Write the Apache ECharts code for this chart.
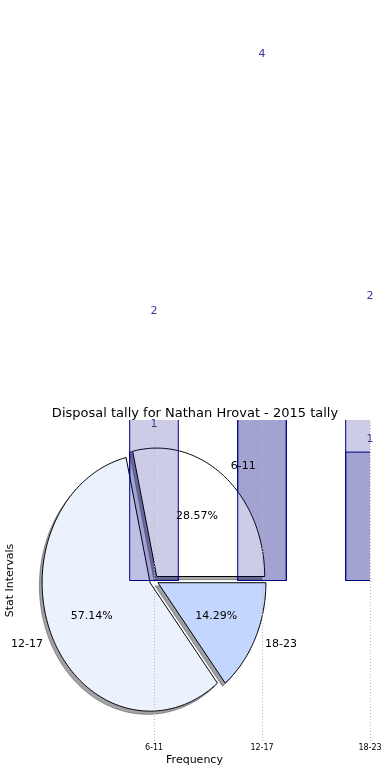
<!DOCTYPE html>
<html><head><meta charset="utf-8">
<script src="https://cdn.jsdelivr.net/npm/echarts@6/dist/echarts.min.js"></script>
<style>html,body{margin:0;padding:0;background:#fff}#c{width:390px;height:780px}</style>
</head><body><div id="c"></div>
<script>
// ---- data ----
const categories = ['6-11', '12-17', '18-23'];
const barSeriesA = [1, 5, 2];      // bar layer drawn beneath the pie
const barSeriesB = [2, 4, 1];      // bar layer drawn above the pie
const pieValues  = [2, 4, 1];
const pieLabels  = ['6-11', '12-17', '18-23'];

// ---- style ----
const FONT = '"DejaVu Sans", sans-serif';
const pieColors = ['#ffffff', '#ebf1fd', '#c3d7fe'];
const explode = [0.04, 0.04, 0.04];
const shadowOff = -0.025;
const barWidthUnits = 0.45;
const barFill = 'rgba(0,0,128,0.2)';

const total = pieValues.reduce((a, b) => a + b, 0);
function wedgeGeom(i) {
  let start = 0;
  for (let k = 0; k < i; k++) start += pieValues[k] / total * 360;
  const sweep = pieValues[i] / total * 360;
  const mid = (start + sweep / 2) * Math.PI / 180;
  return { start, sweep, mid, cx: explode[i] * Math.cos(mid), cy: explode[i] * Math.sin(mid) };
}
function wedgePoints(api, i, d) {
  const g = wedgeGeom(i);
  const pts = [api.coord([g.cx + d, g.cy + d])];
  const n = Math.max(10, Math.ceil(g.sweep));
  for (let k = 0; k <= n; k++) {
    const a = (g.start + g.sweep * k / n) * Math.PI / 180;
    pts.push(api.coord([g.cx + d + Math.cos(a), g.cy + d + Math.sin(a)]));
  }
  return pts;
}
function hexToShadow(hex) {
  const r = parseInt(hex.slice(1, 3), 16), g = parseInt(hex.slice(3, 5), 16), b = parseInt(hex.slice(5, 7), 16);
  return 'rgba(' + Math.round(r * 0.3) + ',' + Math.round(g * 0.3) + ',' + Math.round(b * 0.3) + ',0.5)';
}
function barRender(params, api) {
  const x = api.value(0), v = api.value(1);
  const p1 = api.coord([x - barWidthUnits / 2, v]);
  const p0 = api.coord([x + barWidthUnits / 2, 0]);
  return { type: 'rect',
    shape: { x: p1[0], y: p1[1], width: p0[0] - p1[0], height: p0[1] - p1[1] },
    style: { fill: barFill, stroke: '#000080', lineWidth: 1 } };
}

const pieData = pieValues.map((v, i) => [i, v]);

const chart = echarts.init(document.getElementById('c'), null, { renderer: 'canvas' });
chart.setOption({
  animation: false,
  backgroundColor: '#ffffff',
  title: {
    text: 'Disposal tally for Nathan Hrovat - 2015 tally',
    left: 'center', top: 407, padding: 0,
    textStyle: { fontFamily: FONT, fontSize: 13, fontWeight: 'normal', color: '#000' }
  },
  grid: { left: 19, right: 20, top: 420, bottom: 39, outerBoundsMode: 'none', containLabel: false },
  xAxis: {
    type: 'value', min: -1.25, max: 2, interval: 0.25,
    axisLine: { show: false }, axisTick: { show: false }, splitLine: { show: false },
    axisLabel: {
      fontFamily: FONT, fontSize: 8, color: '#000', margin: 3,
      formatter: v => (Number.isInteger(v) && v >= 0 && v < categories.length) ? categories[v] : ''
    },
    name: 'Frequency', nameLocation: 'middle', nameGap: 14,
    nameTextStyle: { fontFamily: FONT, fontSize: 11, color: '#000' }
  },
  yAxis: {
    type: 'value', min: -1.25, max: 1.25,
    axisLine: { show: false }, axisTick: { show: false }, axisLabel: { show: false }, splitLine: { show: false },
    name: 'Stat Intervals', nameLocation: 'middle', nameGap: 3,
    nameTextStyle: { fontFamily: FONT, fontSize: 11, color: '#000' }
  },
  series: [
    { // pie shadows
      type: 'custom', z: 1, silent: true, data: pieData,
      renderItem: (params, api) => {
        const i = params.dataIndex;
        const c = hexToShadow(pieColors[i]);
        return { type: 'polygon', shape: { points: wedgePoints(api, i, shadowOff) },
                 style: { fill: c, stroke: c, lineWidth: 1 } };
      }
    },
    { // bar layer A
      type: 'custom', z: 2, silent: true, clip: true,
      data: barSeriesA.map((v, i) => [i, v]),
      renderItem: barRender
    },
    { // pie wedges
      type: 'custom', z: 3, silent: true, data: pieData,
      renderItem: (params, api) => {
        const i = params.dataIndex;
        return { type: 'polygon', shape: { points: wedgePoints(api, i, 0) },
                 style: { fill: pieColors[i], stroke: '#000', lineWidth: 1 } };
      }
    },
    { // bar layer B
      type: 'custom', z: 4, silent: true, clip: true,
      data: barSeriesB.map((v, i) => [i, v]),
      renderItem: barRender
    },
    { // pie text labels (on top)
      type: 'custom', z: 5, silent: true, data: pieData,
      renderItem: (params, api) => {
        const i = params.dataIndex;
        const g = wedgeGeom(i);
        const pPct = api.coord([g.cx + 0.6 * Math.cos(g.mid), g.cy + 0.6 * Math.sin(g.mid)]);
        const lx = g.cx + 1.1 * Math.cos(g.mid);
        const pLab = api.coord([lx, g.cy + 1.1 * Math.sin(g.mid)]);
        return { type: 'group', children: [
          { type: 'text', style: { text: (pieValues[i] / total * 100).toFixed(2) + '%',
            x: pPct[0], y: pPct[1], align: 'center', verticalAlign: 'middle',
            fontFamily: FONT, fontSize: 11, fill: '#000' } },
          { type: 'text', style: { text: pieLabels[i],
            x: pLab[0], y: pLab[1], align: lx > 0 ? 'left' : 'right', verticalAlign: 'middle',
            fontFamily: FONT, fontSize: 11, fill: '#000' } }
        ] };
      }
    },
    { // labels for layer A
      type: 'scatter', z: 6, clip: false, silent: true, symbolSize: 0,
      data: barSeriesA.map((v, i) => [i, v]),
      label: { show: true, position: 'inside', offset: [0, -28], formatter: p => String(p.value[1]),
               fontFamily: FONT, fontSize: 11, color: '#000080' }
    },
    { // labels for layer B + dotted grid lines
      type: 'scatter', z: 6, clip: false, silent: true, symbolSize: 0,
      data: barSeriesB.map((v, i) => [i, v]),
      label: { show: true, position: 'inside', offset: [0, -13], formatter: p => String(p.value[1]),
               fontFamily: FONT, fontSize: 11, color: '#000080' },
      markLine: {
        silent: true, symbol: 'none', z: 7,
        label: { show: false },
        lineStyle: { type: [1, 2], color: '#b8b8b8', width: 1 },
        data: categories.map((c, i) => ({ xAxis: i }))
      }
    }
  ]
});
</script>
</body></html>
